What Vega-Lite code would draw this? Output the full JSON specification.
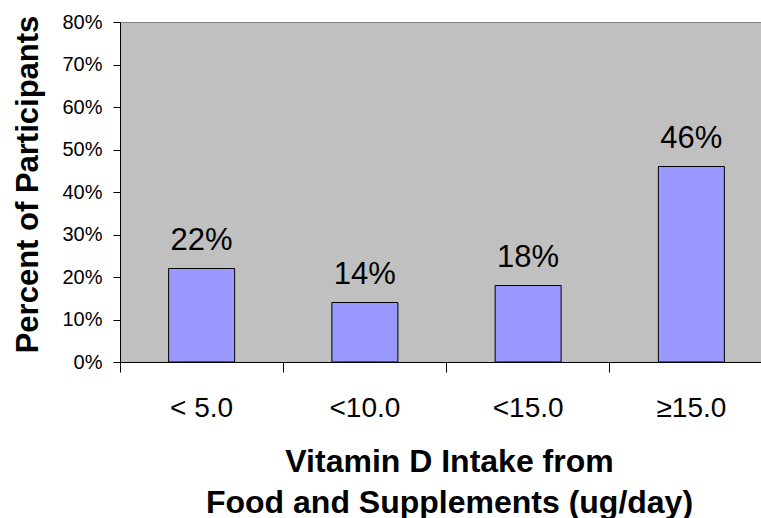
{
  "$schema": "https://vega.github.io/schema/vega-lite/v6.json",
  "autosize": "none",
  "width": 650,
  "height": 340,
  "padding": {"left": 120, "top": 22, "right": 0, "bottom": 156},
  "background": "white",
  "config": {
    "font": "Liberation Sans",
    "view": {"fill": "#C0C0C0", "stroke": "#808080", "strokeWidth": 1}
  },
  "data": {
    "values": [
      {"intake": "< 5.0", "pct": 0.22, "label": "22%"},
      {"intake": "<10.0", "pct": 0.14, "label": "14%"},
      {"intake": "<15.0", "pct": 0.18, "label": "18%"},
      {"intake": "≥15.0", "pct": 0.46, "label": "46%"}
    ]
  },
  "encoding": {
    "x": {
      "field": "intake",
      "type": "nominal",
      "sort": null,
      "scale": {"range": [0, 653], "paddingInner": 0, "paddingOuter": 0},
      "axis": {
        "title": ["Vitamin D Intake from", "Food and Supplements (ug/day)"],
        "titleFont": "Liberation Sans",
        "titleFontSize": 32,
        "titleFontWeight": "bold",
        "titleColor": "black",
        "titleLineHeight": 41,
        "titleBaseline": "alphabetic",
        "titleX": 329,
        "titleY": 109,
        "labelAngle": 0,
        "labelFontSize": 28,
        "labelColor": "black",
        "labelBaseline": "alphabetic",
        "labelPadding": 44,
        "tickSize": 10,
        "tickColor": "black",
        "domainColor": "black",
        "bandPosition": 0,
        "grid": false
      }
    }
  },
  "layer": [
    {
      "mark": {"type": "bar", "size": 66, "fill": "#9999FF", "stroke": "black", "strokeWidth": 1},
      "encoding": {
        "y": {
          "field": "pct",
          "type": "quantitative",
          "scale": {"domain": [0, 0.8], "nice": false},
          "axis": {
            "title": "Percent of Participants",
            "titleFontSize": 31,
            "titleFontWeight": "bold",
            "titleColor": "black",
            "titleAngle": -90,
            "titleAlign": "center",
            "titleBaseline": "alphabetic",
            "titleX": -83,
            "titleY": 162,
            "format": ".0%",
            "values": [0, 0.1, 0.2, 0.3, 0.4, 0.5, 0.6, 0.7, 0.8],
            "labelFontSize": 20,
            "labelColor": "black",
            "labelPadding": 11,
            "tickSize": 7,
            "tickColor": "black",
            "domainColor": "black",
            "grid": false
          }
        }
      }
    },
    {
      "mark": {"type": "text", "fontSize": 31, "color": "black", "baseline": "alphabetic", "dy": -19},
      "encoding": {
        "y": {"field": "pct", "type": "quantitative"},
        "text": {"field": "label", "type": "nominal"}
      }
    }
  ]
}
